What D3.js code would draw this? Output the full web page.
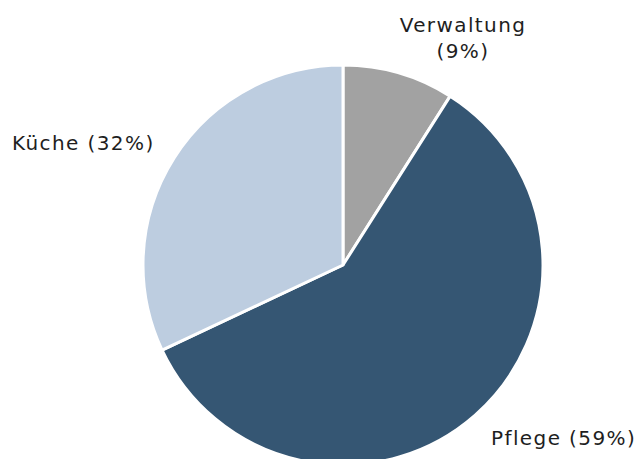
<!DOCTYPE html>
<html>
<head>
<meta charset="utf-8">
<style>
  body { margin: 0; background: #fff; }
  svg text { font-family: "DejaVu Sans", Verdana, sans-serif; font-size: 20px; fill: #1e1e1e; letter-spacing: 1.4px; }
</style>
</head>
<body>
<div id="chart"></div>
<script src="https://d3js.org/d3.v7.min.js"></script>
<script>
  var categories = ["Verwaltung", "Pflege", "Küche"];
  var values = [9, 59, 32];
  var colors = ["#a2a2a2", "#355673", "#bdcde0"];
  // label lines per slice
  var labels = [["Verwaltung", "(9%)"], ["Pflege (59%)"], ["Küche (32%)"]];

  var width = 637, height = 459;
  var cx = 343, cy = 265, radius = 200;

  var svg = d3.select("#chart").append("svg")
      .attr("width", width)
      .attr("height", height);

  var g = svg.append("g").attr("transform", "translate(" + cx + "," + cy + ")");

  var pie = d3.pie().sort(null).value(function(d) { return d; });
  var arc = d3.arc().innerRadius(0).outerRadius(radius);
  var arcs = pie(values);

  g.selectAll("path")
      .data(arcs)
      .enter()
      .append("path")
      .attr("d", arc)
      .attr("fill", function(d, i) { return colors[i]; })
      .attr("stroke", "#fff")
      .attr("stroke-width", 3)
      .attr("stroke-linejoin", "round");

  // label placement, offsets relative to pie center
  var labelPos = [
    { x: 120, y: -233, anchor: "middle" },
    { x: 148, y: 180, anchor: "start" },
    { x: -331, y: -115, anchor: "start" }
  ];

  labels.forEach(function(lines, i) {
    var t = g.append("text")
        .attr("x", labelPos[i].x)
        .attr("y", labelPos[i].y)
        .attr("text-anchor", labelPos[i].anchor);
    lines.forEach(function(line, j) {
      t.append("tspan")
          .attr("x", labelPos[i].x)
          .attr("dy", j === 0 ? 0 : 26)
          .text(line);
    });
  });
</script>
</body>
</html>
